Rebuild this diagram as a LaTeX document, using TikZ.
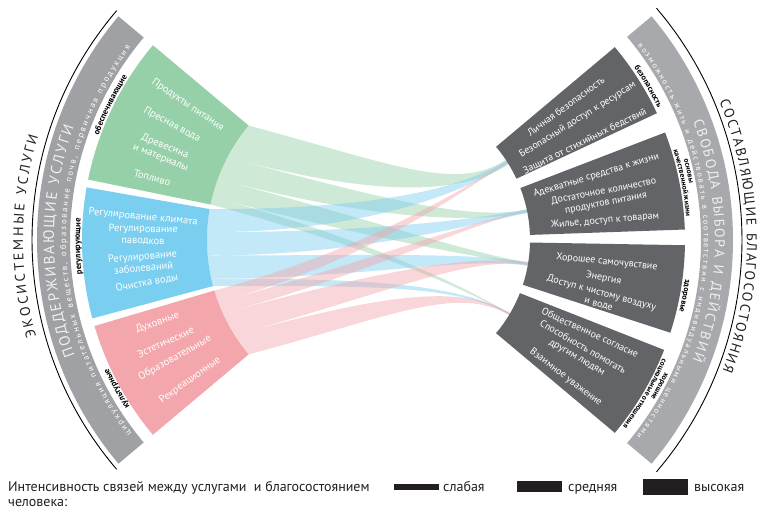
\documentclass[tikz,border=0pt]{standalone}
\usepackage{fontspec}
\setmainfont{PT Sans}
\usetikzlibrary{decorations.text}
\definecolor{gdark}{RGB}{149,208,168}
\definecolor{bdark}{RGB}{122,206,240}
\definecolor{pdark}{RGB}{243,166,171}
\definecolor{bandL}{RGB}{160,161,164}
\definecolor{bandR}{RGB}{168,169,172}
\definecolor{boxR}{RGB}{99,100,104}
\definecolor{ink}{RGB}{35,31,32}
\newcommand\annsec[5]{\fill[#1] (#2:#4) arc[start angle=#2,end angle=#3,radius=#4] -- (#3:#5) arc[start angle=#3,end angle=#2,radius=#5] -- cycle;}
\newcommand\ribbon[6]{\fill[#1,fill opacity=0.45] (#2:178) .. controls +(#6:150) and +(#4+180:60) .. (#4+#5:145) -- (#4-#5:145) .. controls +(#4+180:60) and +(#6:150) .. (#3:178) arc[start angle=#3,end angle=#2,radius=178] -- cycle;}
\newcommand\arctext[6]{\path[decorate,decoration={text along path,text align={#6},text={|#4|#5}}] (#2:#1) arc[start angle=#2,end angle=#3,radius=#1];}
\tikzset{
  lefttxt/.style={text=white,font=\fontsize{10.5}{12}\selectfont,align=center,inner sep=0pt},
  boxtxt/.style={text=white,font=\fontsize{10}{11.5}\selectfont,align=center,inner sep=0pt},
  legtxt/.style={text=ink,font=\fontsize{14}{15}\selectfont,inner sep=0pt,anchor=base west},
  legbar/.style={fill=ink,inner sep=0pt,minimum width=45pt},
}
\begin{document}
\begin{tikzpicture}[x=1pt,y=1pt]
\useasboundingbox (0,0) rectangle (768,510);
\fill[white] (0,0) rectangle (768,510);
\begin{scope}[shift={(385,270)}]
% ribbons green
\ribbon{gdark}{140}{152.3}{32.5}{1.0}{-15}
\ribbon{gdark}{152.3}{159.9}{11.5}{0.6}{-15}
\ribbon{gdark}{159.9}{166}{-9.5}{0.5}{-15}
\ribbon{gdark}{166}{168.5}{-30.75}{0.2}{-15}
% ribbons blue
\ribbon{bdark}{170}{177.5}{32.5}{0.75}{0}
\ribbon{bdark}{177.5}{185}{11.5}{0.75}{0}
\ribbon{bdark}{185}{192.5}{-9.5}{0.75}{0}
\ribbon{bdark}{192.5}{195}{-30.75}{0.25}{0}
% ribbons pink
\ribbon{pdark}{196.5}{200.4}{32.5}{0.25}{15}
\ribbon{pdark}{200.4}{204.3}{11.5}{0.25}{15}
\ribbon{pdark}{204.3}{212.2}{-9.5}{0.5}{15}
\ribbon{pdark}{212.2}{220}{-30.75}{0.5}{15}
% left sectors
\annsec{gdark}{140}{168.5}{178}{303}
\annsec{bdark}{170}{195}{178}{303}
\annsec{pdark}{196.5}{220}{178}{303}
% right boxes
\annsec{boxR}{25}{40}{145}{300}
\annsec{boxR}{2}{21}{145}{300}
\annsec{boxR}{-18}{-1}{145}{300}
\annsec{boxR}{-40}{-21.5}{145}{300}
% bands
\annsec{bandL}{140}{220}{315}{348}
\annsec{bandR}{-40}{40}{316}{348}
\draw[black,line width=0.9pt] (139.5:353) arc[start angle=139.5,end angle=220.5,radius=353];
\draw[black,line width=0.9pt] (-40.5:357) arc[start angle=-40.5,end angle=40.5,radius=357];
% outer texts
\arctext{362}{195.5}{163.3}{\fontsize{14}{14}\selectfont\color{ink}}{ЭКОСИСТЕМНЫЕ УСЛУГИ}{fit to path}
\arctext{362}{22.5}{-21.2}{\fontsize{14}{14}\selectfont\color{ink}}{СОСТАВЛЯЮЩИЕ БЛАГОСОСТОЯНИЯ}{fit to path}
% band texts
\arctext{331}{200.5}{160}{\fontsize{15}{15}\selectfont\color{white!88!gray}}{ПОДДЕРЖИВАЮЩИЕ УСЛУГИ}{fit to path}
\arctext{319}{217.4}{143}{\fontsize{8.5}{8.5}\selectfont\color{white}}{циркуляция питательных веществ, образование почв, первичная продукция}{fit to path}
\arctext{330}{21}{-21.3}{\fontsize{14}{14}\selectfont\color{white!88!gray}}{СВОБОДА ВЫБОРА И ДЕЙСТВИЙ}{fit to path}
\arctext{319}{37.6}{-37.8}{\fontsize{8}{8}\selectfont\color{white}}{возможность жить и действовать в соответствии с индивидуальными ценностями}{fit to path}
% category labels
\arctext{305}{168.8}{138.8}{\fontsize{8.5}{8.5}\bfseries\selectfont\color{black}}{обеспечивающие}{center}
\arctext{305}{196.2}{166.2}{\fontsize{8.5}{8.5}\bfseries\selectfont\color{black}}{регулирующие}{center}
\arctext{305}{224}{194}{\fontsize{8.5}{8.5}\bfseries\selectfont\color{black}}{культурные}{center}
\arctext{303}{45.2}{15.2}{\fontsize{8}{8}\bfseries\selectfont\color{black}}{безопасность}{center}
\arctext{309.5}{27.8}{-2.2}{\fontsize{7.5}{7.5}\bfseries\selectfont\color{black}}{основы}{center}
\arctext{302}{25.9}{-4.1}{\fontsize{7.5}{7.5}\bfseries\selectfont\color{black}}{качественной жизни}{center}
\arctext{303}{4.4}{-25.6}{\fontsize{8}{8}\bfseries\selectfont\color{black}}{здоровье}{center}
\arctext{309.5}{-13}{-43}{\fontsize{7.5}{7.5}\bfseries\selectfont\color{black}}{хорошие}{center}
\arctext{302}{-15.6}{-45.6}{\fontsize{7.5}{7.5}\bfseries\selectfont\color{black}}{социальные отношения}{center}
% left sector texts
\node[lefttxt,rotate=-34.4] (g1) at (145.6:239) {Продукты питания};
\node[lefttxt,rotate=-28.4] (g2) at (151.6:242) {Пресная вода};
\node[lefttxt,rotate=-21.6] (g3) at (158.4:239) {Древесина\\и материалы};
\node[lefttxt,rotate=-15] (g4) at (165:241) {Топливо};
\node[lefttxt,rotate=-5.4] (b1) at (174.6:243) {Регулирование климата};
\node[lefttxt,rotate=-1.2] (b2) at (178.8:242) {Регулирование\\паводков};
\node[lefttxt,rotate=5.2] (b3) at (185.2:243) {Регулирование\\заболеваний};
\node[lefttxt,rotate=10.2] (b4) at (190.2:242) {Очистка воды};
\node[lefttxt,rotate=20] (p1) at (200:242) {Духовные};
\node[lefttxt,rotate=24.9] (p2) at (204.9:242) {Эстетические};
\node[lefttxt,rotate=29.3] (p3) at (209.3:241) {Образовательные};
\node[lefttxt,rotate=35.7] (p4) at (215.7:240) {Рекреационные};
% right box texts
\node[boxtxt,rotate=36.5] (s1) at (36.5:225) {Личная безопасность};
\node[boxtxt,rotate=31.9] (s2) at (31.9:227) {Безопасный доступ к ресурсам};
\node[boxtxt,rotate=26.3] (s3) at (26.3:223) {Защита от стихийных бедствий};
\node[boxtxt,rotate=17] (m1) at (17:221) {Адекватные средства к жизни};
\node[boxtxt,rotate=11] (m2) at (11:224) {Достаточное количество\\продуктов питания};
\node[boxtxt,rotate=5] (m3) at (5:221) {Жилье, доступ к товарам};
\node[boxtxt,rotate=-5.7] (h1) at (-5.7:223) {Хорошее самочувствие};
\node[boxtxt,rotate=-10] (h2) at (-10:222) {Энергия};
\node[boxtxt,rotate=-15.2] (h3) at (-15.2:223) {Доступ к чистому воздуху\\и воде};
\node[boxtxt,rotate=-24.4] (r1) at (-24.4:225) {Общественное согласие};
\node[boxtxt,rotate=-30] (r2) at (-30:225) {Способность помогать\\другим людям};
\node[boxtxt,rotate=-37.2] (r3) at (-37.2:227) {Взаимное уважение};
\end{scope}
% legend
\node[legtxt] (lg1) at (8,18) {Интенсивность связей между услугами\ \ и благосостоянием};
\node[legtxt] (lg2) at (8,3) {человека:};
\node[legbar,minimum height=6pt] (bar1) at (416,23) {};
\node[legtxt] (lt1) at (443,18) {слабая};
\node[legbar,minimum height=11pt] (bar2) at (539,23) {};
\node[legtxt] (lt2) at (568,18) {средняя};
\node[legbar,minimum height=16pt] (bar3) at (665,23) {};
\node[legtxt] (lt3) at (694,18) {высокая};
\end{tikzpicture}
\end{document}
